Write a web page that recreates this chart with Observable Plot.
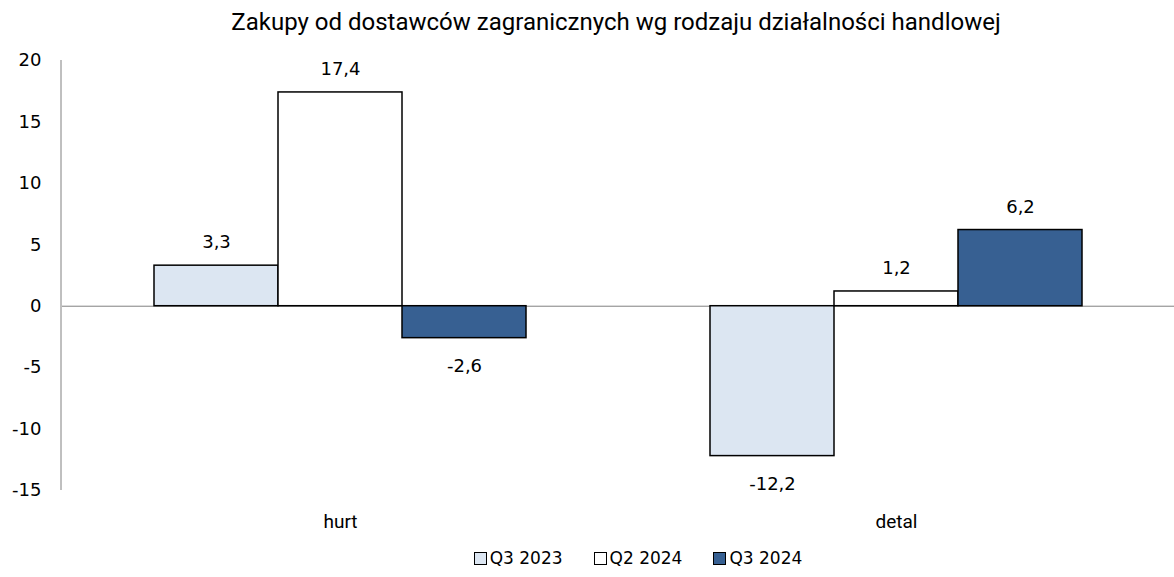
<!DOCTYPE html>
<html>
<head>
<meta charset="utf-8">
<script src="https://cdn.jsdelivr.net/npm/d3@7"></script>
<script src="https://cdn.jsdelivr.net/npm/@observablehq/plot@0.6"></script>
<style>
  body { margin: 0; background: #fff; }
  #title { height: 40px; line-height: 44px; text-align: center; font-family: Roboto, sans-serif; font-size: 24px; color: #000; padding-left: 58px; }
  #legend { display: flex; justify-content: center; gap: 31px; font-family: "DejaVu Sans", sans-serif; font-size: 17px; color: #000; margin-top: 8px; padding-left: 102px; }
  .item { display: flex; align-items: center; gap: 3px; }
  .sw { width: 11px; height: 11px; border: 1px solid #000; display: inline-block; }
</style>
</head>
<body>
<div id="title">Zakupy od dostawców zagranicznych wg rodzaju działalności handlowej</div>
<div id="chart"></div>
<div id="legend"></div>
<script>
const categories = ["hurt", "detal"];
const series = ["Q3 2023", "Q2 2024", "Q3 2024"];
const colors = ["#dce6f2", "#ffffff", "#376092"];
const valuesQ3_2023 = [3.3, -12.2];
const valuesQ2_2024 = [17.4, 1.2];
const valuesQ3_2024 = [-2.6, 6.2];
const yTicks = [-15, -10, -5, 0, 5, 10, 15, 20];

const seriesValues = [valuesQ3_2023, valuesQ2_2024, valuesQ3_2024];
const data = [];
categories.forEach((c, i) => series.forEach((s, j) => data.push({category: c, series: s, value: seriesValues[j][i]})));
const fmt = v => v.toFixed(1).replace(".", ",");
const FONT = "DejaVu Sans";

const plot = Plot.plot({
  width: 1174,
  height: 500,
  marginLeft: 61,
  marginRight: 0,
  marginTop: 20,
  marginBottom: 50,
  style: {background: "#fff", color: "#000"},
  fx: {domain: categories, padding: 0},
  x: {domain: series, paddingInner: 0, paddingOuter: 0.735, axis: null},
  y: {domain: [-15, 20], axis: null},
  color: {domain: series, range: colors},
  marks: [
    Plot.axisY({ticks: yTicks, tickSize: 0, tickPadding: 21, tickFormat: d => String(d), label: null, fontSize: 18, fontFamily: FONT, fill: "#000"}),
    Plot.ruleY([0], {stroke: "#808080", strokeWidth: 1}),
    Plot.barY(data, {fx: "category", x: "series", y: "value", fill: "series", stroke: "#000", strokeWidth: 1.5}),
    Plot.text(data.filter(d => d.value >= 0), {fx: "category", x: "series", y: "value", text: d => fmt(d.value), dy: -23, fontSize: 18, fontFamily: FONT, fill: "#000"}),
    Plot.text(data.filter(d => d.value < 0), {fx: "category", x: "series", y: "value", text: d => fmt(d.value), dy: 28, fontSize: 18, fontFamily: FONT, fill: "#000"}),
    Plot.axisFx({anchor: "bottom", tickSize: 0, tickPadding: 24, label: null, fontSize: 19, fontFamily: "Roboto", fill: "#000"})
  ]
});
document.getElementById("chart").appendChild(plot);

// left axis line spanning the y domain, from the plot's own scales
const ys = plot.scale("y");
d3.select(plot).append("line")
  .attr("x1", 61).attr("x2", 61)
  .attr("y1", ys.apply(20)).attr("y2", ys.apply(-15))
  .attr("stroke", "#808080").attr("stroke-width", 1);

const legend = d3.select("#legend");
series.forEach((s, i) => {
  const it = legend.append("div").attr("class", "item");
  it.append("span").attr("class", "sw").style("background", colors[i]);
  it.append("span").text(s);
});
</script>
</body>
</html>
